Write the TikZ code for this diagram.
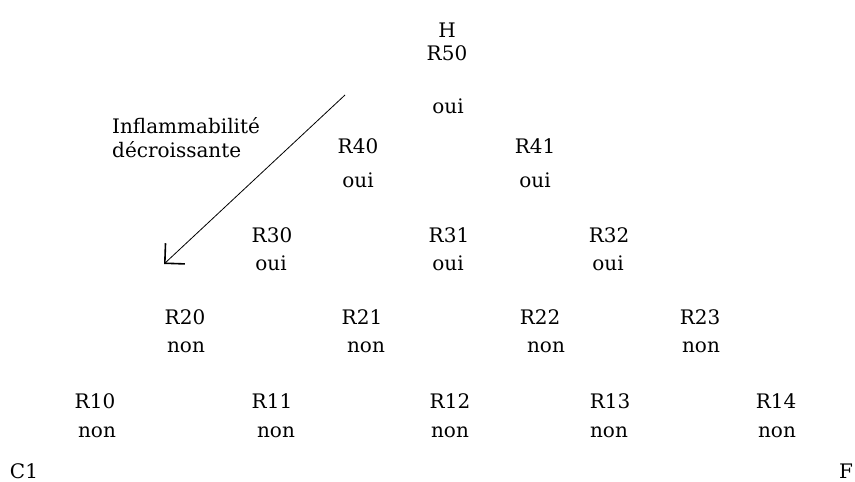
\documentclass[tikz,border=0pt]{standalone}
\usepackage{fontspec}
\setmainfont{DejaVu Serif}
\usetikzlibrary{arrows.meta}

\begin{document}
\begin{tikzpicture}[x=1pt,y=-1pt,font=\fontsize{20}{24}\selectfont,
    every node/.style={inner sep=0pt,anchor=base}]
  \useasboundingbox (0,0) rectangle (855,482);

  \node (h) at (447,37) {H};
  \node (r50) at (447,60) {R50};
  \node (a50) at (448,113) {oui};

  \node (r40) at (358,153) {R40};
  \node (a40) at (358,187) {oui};
  \node (r41) at (535,153) {R41};
  \node (a41) at (535,187) {oui};

  \node (r30) at (272,242) {R30};
  \node (a30) at (271,270) {oui};
  \node (r31) at (449,242) {R31};
  \node (a31) at (448,270) {oui};
  \node (r32) at (609,242) {R32};
  \node (a32) at (608,270) {oui};

  \node (r20) at (185,324) {R20};
  \node (a20) at (186,352) {non};
  \node (r21) at (362,324) {R21};
  \node (a21) at (366,352) {non};
  \node (r22) at (540,324) {R22};
  \node (a22) at (546,352) {non};
  \node (r23) at (700,324) {R23};
  \node (a23) at (701,352) {non};

  \node (r10) at (95,408) {R10};
  \node (a10) at (97,437) {non};
  \node (r11) at (272,408) {R11};
  \node (a11) at (276,437) {non};
  \node (r12) at (450,408) {R12};
  \node (a12) at (450,437) {non};
  \node (r13) at (610,408) {R13};
  \node (a13) at (609,437) {non};
  \node (r14) at (776,408) {R14};
  \node (a14) at (777,437) {non};

  \node (c1) at (24,478) {C1};
  \node (f) at (846,478) {F};

  % sens de l'inflammabilite
  \node[anchor=base west] (infl) at (112,133) {Inflammabilité};
  \node[anchor=base west] (decr) at (112,157) {décroissante};
  \coordinate (haut) at (345,95);
  \coordinate (bas) at (164,264);
  \draw[line width=.8pt,-{Straight Barb[angle=90:20pt,line width=1.6pt]}]
    (haut) -- (bas);
\end{tikzpicture}
\end{document}
